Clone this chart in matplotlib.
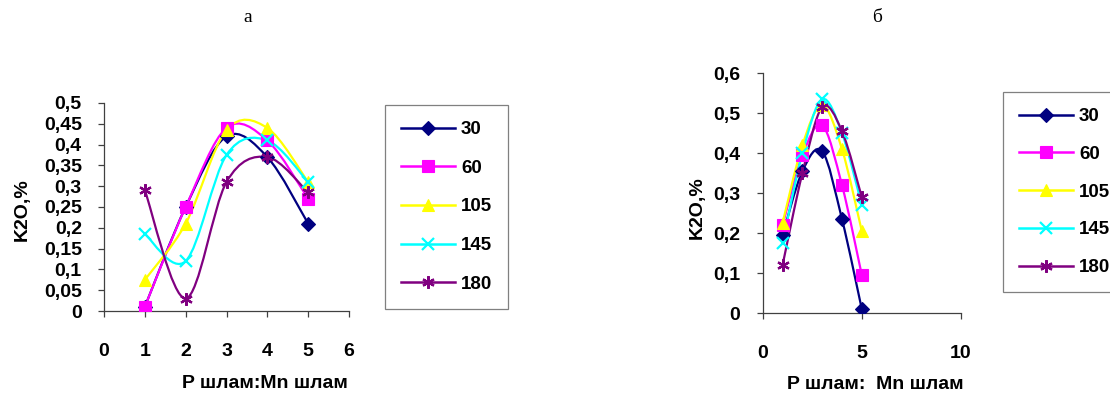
import numpy as np
import matplotlib
matplotlib.use("Agg")
import matplotlib.pyplot as plt
from matplotlib.path import Path
from matplotlib.patches import PathPatch

# data
x_vals = [1, 2, 3, 4, 5]
series_names = ["30", "60", "105", "145", "180"]

left_30 = [0.01, 0.25, 0.42, 0.37, 0.21]
left_60 = [0.01, 0.25, 0.44, 0.41, 0.27]
left_105 = [0.075, 0.21, 0.435, 0.44, 0.31]
left_145 = [0.185, 0.12, 0.375, 0.41, 0.31]
left_180 = [0.29, 0.03, 0.31, 0.37, 0.285]

right_30 = [0.195, 0.355, 0.405, 0.235, 0.01]
right_60 = [0.22, 0.395, 0.47, 0.32, 0.095]
right_105 = [0.225, 0.42, 0.52, 0.41, 0.205]
right_145 = [0.175, 0.40, 0.535, 0.45, 0.27]
right_180 = [0.12, 0.35, 0.515, 0.455, 0.29]

left_yticks = [0, 0.05, 0.1, 0.15, 0.2, 0.25, 0.3, 0.35, 0.4, 0.45, 0.5]
right_yticks = [0, 0.1, 0.2, 0.3, 0.4, 0.5, 0.6]
left_xticks = [0, 1, 2, 3, 4, 5, 6]
right_xticks = [0, 5, 10]

colors = ["#000080", "#FF00FF", "#FFFF00", "#00FFFF", "#800080"]
markers = ["D", "s", "^", "x", (6, 2, 0)]
msizes = [7.5, 8.5, 8.5, 8.5, 9]

plt.rcParams["font.family"] = ["Liberation Sans", "DejaVu Sans"]
plt.rcParams["font.weight"] = "bold"

FS = 14


def smooth_path(xs, ys):
    # Excel-like smoothed line: cubic Bezier segments (Catmull-Rom control points)
    pts = np.column_stack([xs, ys]).astype(float)
    ext = np.vstack([pts[0], pts, pts[-1]])
    verts = [pts[0]]
    codes = [Path.MOVETO]
    for i in range(1, len(ext) - 2):
        p0, p1, p2, p3 = ext[i - 1], ext[i], ext[i + 1], ext[i + 2]
        c1 = p1 + (p2 - p0) / 6.0
        c2 = p2 - (p3 - p1) / 6.0
        verts += [c1, c2, p2]
        codes += [Path.CURVE4] * 3
    return Path(verts, codes)


def comma(v):
    s = ("%.2f" % v).rstrip("0").rstrip(".")
    return s.replace(".", ",")


def draw_panel(ax, data, yticks, xticks, ylim, xlim):
    handles = []
    for vals, name, c, m, ms in zip(data, series_names, colors, markers, msizes):
        ax.add_patch(PathPatch(smooth_path(x_vals, vals), facecolor="none",
                               edgecolor=c, lw=1.6, zorder=2))
        mew = 1.6 if m == "x" or isinstance(m, tuple) else 0.8
        ax.plot(x_vals, vals, linestyle="none", color=c, marker=m,
                markersize=ms, markeredgecolor=c, markerfacecolor=c,
                markeredgewidth=mew, label=name, zorder=3)
        handles.append(plt.Line2D([], [], color=c, lw=1.8, marker=m, markersize=ms,
                                  markeredgecolor=c, markerfacecolor=c,
                                  markeredgewidth=mew))
    ax.set_xlim(*xlim)
    ax.set_ylim(*ylim)
    ax.set_xticks(xticks)
    ax.set_yticks(yticks)
    ax.set_yticklabels([comma(v) for v in yticks])
    ax.set_xticklabels([str(v) for v in xticks])
    for s in ("top", "right"):
        ax.spines[s].set_visible(False)
    for s in ("left", "bottom"):
        ax.spines[s].set_color("#404040")
        ax.spines[s].set_linewidth(0.9)
    ax.tick_params(axis="x", length=4, width=0.9, pad=19, labelsize=FS, colors="#404040",
                   labelcolor="black")
    ax.tick_params(axis="y", length=4, width=0.9, pad=12, labelsize=FS, colors="#404040",
                   labelcolor="black")
    ax.set_ylabel("K2O,%", fontsize=FS, fontweight="bold")
    return handles


fig = plt.figure(figsize=(11.1, 3.96), dpi=100)
W, H = 1110.0, 396.0

ax1 = fig.add_axes([104 / W, 1 - 311 / H, 245 / W, 208 / H])
h1 = draw_panel(ax1, [left_30, left_60, left_105, left_145, left_180],
                left_yticks, left_xticks, (0, 0.5), (0, 6))
ax1.set_xlabel("P шлам:Mn шлам", fontsize=FS, fontweight="bold")
ax1.xaxis.set_label_coords(0.657, -0.31)
ax1.yaxis.set_label_coords(-0.30, 0.486)

ax2 = fig.add_axes([762.7 / W, 1 - 313.3 / H, 198.3 / W, 240 / H])
h2 = draw_panel(ax2, [right_30, right_60, right_105, right_145, right_180],
                right_yticks, right_xticks, (0, 0.6), (0, 10))
ax2.set_xlabel("P шлам:  Mn шлам", fontsize=FS, fontweight="bold")
ax2.xaxis.set_label_coords(0.566, -0.262)
ax2.yaxis.set_label_coords(-0.286, 0.439)

leg_kw = dict(fontsize=13.5, frameon=True, fancybox=False, handlelength=2.9,
              handletextpad=0.3, borderpad=0.85, borderaxespad=0,
              loc="upper left", bbox_transform=fig.transFigure)
leg1 = ax1.legend(h1, series_names, bbox_to_anchor=(385 / W, 1 - 105 / H),
                  labelspacing=1.15, **leg_kw)
leg2 = ax2.legend(h2, series_names, bbox_to_anchor=(1003 / W, 1 - 92 / H),
                  labelspacing=1.1, **leg_kw)
for leg in (leg1, leg2):
    leg.get_frame().set_edgecolor("#606060")
    leg.get_frame().set_linewidth(0.9)
    for t in leg.get_texts():
        t.set_fontweight("bold")

fig.text(248 / W, 1 - 18 / H, "а", fontsize=14, family="Liberation Serif",
         fontweight="normal", ha="center", va="center")
fig.text(877 / W, 1 - 18 / H, "б", fontsize=14, family="Liberation Serif",
         fontweight="normal", ha="center", va="center")

fig.savefig("out.png", dpi=100)
